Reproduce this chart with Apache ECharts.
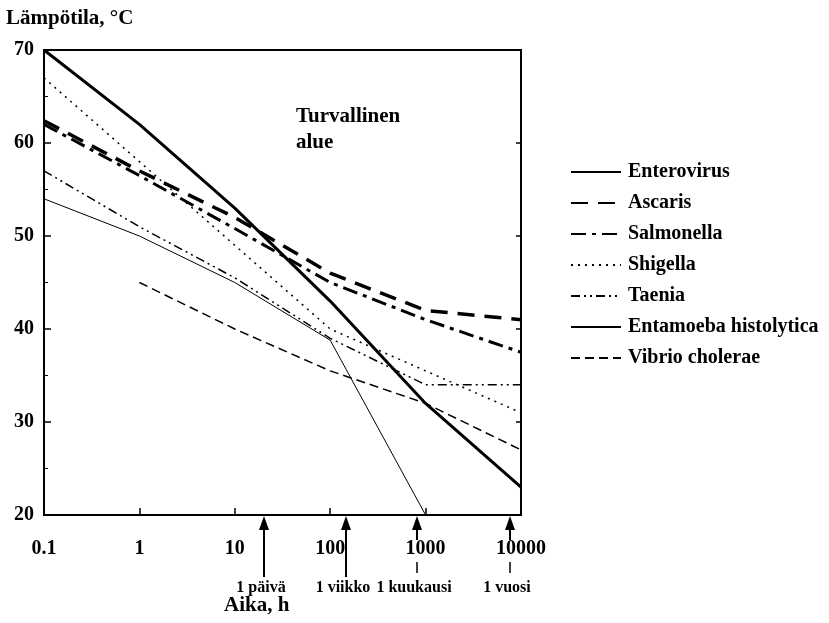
<!DOCTYPE html>
<html style="height: 100%">
<head>
<meta charset="UTF-8">
<title></title>
<script src="https://cdn.jsdelivr.net/npm/echarts@6/dist/echarts.min.js"></script>
</head>
<body style="height: 100%; margin: 0; background: #fff">
<div id="container" style="width: 829px; height: 623px;"></div>
<script type="text/javascript">
// aika tunteina (log-asteikko)
var times = [0.1, 1, 10, 100, 1000, 10000];
var enterovirus = [70, 62, 53, 43, 32, 23];
var ascaris = [62.4, 57, 52, 46, 42, 41];
var salmonella = [62, 56.5, 50.8, 45, 41, 37.5];
var shigella = [67, 58, 49, 40, 35.5, 31];
var taenia = [57, 51, 45.5, 39, 34, 34];
var entamoebaTimes = [0.1, 1, 10, 100, 1000];
var entamoeba = [54, 50, 45, 38.8, 20];
var vibrioTimes = [1, 10, 100, 1000, 10000];
var vibrio = [45, 40, 35.5, 32, 27];
var xTicks = ['0.1', '1', '10', '100', '1000', '10000'];
// nuolet: paikka luettu kuvasta (h)
var markTimes = [20, 145, 820, 7600];
var markNames = ['1 päivä', '1 viikko', '1 kuukausi', '1 vuosi'];

var FONT = '"Liberation Serif", "DejaVu Serif", serif';

function pairs(xs, ys) {
	return xs.map(function (x, i) { return [x, ys[i]]; });
}

var dom = document.getElementById('container');
var myChart = echarts.init(dom);

function line(name, data, width, type) {
	return {
		name: name,
		type: 'line',
		data: data,
		symbol: 'none',
		color: '#000',
		animation: false,
		lineStyle: { color: '#000', width: width, type: type }
	};
}

var option = {
	animation: false,
	textStyle: { fontFamily: FONT },
	grid: {
		left: 44, top: 50, right: 308, bottom: 108,
		show: true, borderColor: '#000', borderWidth: 2
	},
	legend: {
		orient: 'vertical',
		left: 565, top: 157,
		itemWidth: 50, itemHeight: 20, itemGap: 11,
		itemStyle: { opacity: 0 },
		textStyle: { fontFamily: FONT, fontWeight: 'bold', fontSize: 20, color: '#000', padding: [0, 0, 0, 2] },
		data: ['Enterovirus', 'Ascaris', 'Salmonella', 'Shigella', 'Taenia', 'Entamoeba histolytica', 'Vibrio cholerae']
	},
	xAxis: {
		type: 'log',
		logBase: 10,
		min: 0.1,
		max: 10000,
		axisLine: { lineStyle: { color: '#000', width: 2 } },
		axisTick: { inside: true, length: 7, lineStyle: { color: '#000', width: 1.5 } },
		splitLine: { show: false },
		axisLabel: {
			color: '#000', fontFamily: FONT, fontWeight: 'bold', fontSize: 20, margin: 24,
			formatter: function (v) {
				var i = Math.round(Math.log10(v)) + 1;
				return xTicks[i] !== undefined ? xTicks[i] : '';
			}
		}
	},
	yAxis: [{
		type: 'value',
		min: 20,
		max: 70,
		interval: 10,
		axisLine: { show: true, lineStyle: { color: '#000', width: 2 } },
		axisTick: { inside: true, length: 7, lineStyle: { color: '#000', width: 1.5 } },
		minorTick: { show: true, splitNumber: 2, length: 4, lineStyle: { color: '#000' } },
		splitLine: { show: false },
		axisLabel: { color: '#000', fontFamily: FONT, fontWeight: 'bold', fontSize: 20, margin: 10 }
	}, {
		type: 'value',
		position: 'right',
		min: 20,
		max: 70,
		interval: 10,
		axisLine: { show: true, lineStyle: { color: '#000', width: 2 } },
		axisTick: { inside: true, length: 5, lineStyle: { color: '#000', width: 1.5 } },
		splitLine: { show: false },
		axisLabel: { show: false }
	}],
	series: [
		line('Enterovirus', pairs(times, enterovirus), 3, 'solid'),
		line('Ascaris', pairs(times, ascaris), 3.5, [17, 10]),
		line('Salmonella', pairs(times, salmonella), 3, [15, 6, 4, 6]),
		line('Shigella', pairs(times, shigella), 1.5, [2, 5]),
		line('Taenia', pairs(times, taenia), 1.5, [9, 4, 2, 4, 2, 4]),
		line('Entamoeba histolytica', pairs(entamoebaTimes, entamoeba), 1, 'solid'),
		line('Vibrio cholerae', pairs(vibrioTimes, vibrio), 1.5, [9, 5])
	]
};

myChart.setOption(option, true);

// nuolet ja tekstit akselin alle
var graphics = [
	{ type: 'text', left: 6, top: 8, style: { text: 'Lämpötila, °C', font: 'bold 21px ' + FONT, fill: '#000' } },
	{ type: 'text', left: 296, top: 104, style: { text: 'Turvallinen\nalue', font: 'bold 21px ' + FONT, fill: '#000', lineHeight: 26 } },
	{ type: 'text', left: 224, top: 595, style: { text: 'Aika, h', font: 'bold 21px ' + FONT, fill: '#000' } }
];
markTimes.forEach(function (t, i) {
	var p = myChart.convertToPixel({ gridIndex: 0 }, [t, 20]);
	var x = Math.round(p[0]), y0 = p[1] + 1;
	var longArrow = i < 2;
	var yEnd = longArrow ? 577 : 540;
	graphics.push({ type: 'line', shape: { x1: x, y1: y0 + 10, x2: x, y2: yEnd }, style: { stroke: '#000', lineWidth: 2 } });
	graphics.push({ type: 'polygon', shape: { points: [[x, y0], [x - 5, y0 + 14], [x + 5, y0 + 14]] }, style: { fill: '#000' } });
	if (!longArrow) {
		graphics.push({ type: 'line', shape: { x1: x, y1: 562, x2: x, y2: 573 }, style: { stroke: '#000', lineWidth: 1.5 } });
	}
	graphics.push({
		type: 'text', x: x - 3, y: 580,
		style: { text: markNames[i], font: 'bold 16px ' + FONT, fill: '#000', align: 'center' }
	});
});
myChart.setOption({ graphic: graphics });
</script>
</body>
</html>
